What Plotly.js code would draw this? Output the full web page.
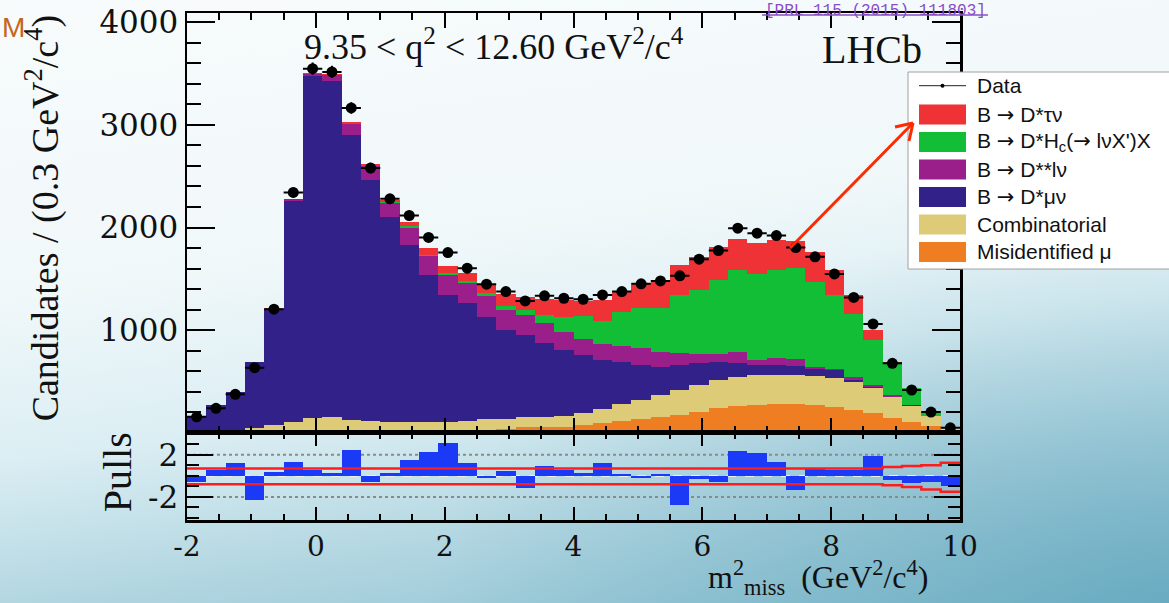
<!DOCTYPE html>
<html>
<head>
<meta charset="utf-8">
<script src="https://cdn.plot.ly/plotly-3.0.1.min.js"></script>
<style>
html,body{margin:0;padding:0;width:1169px;height:603px;overflow:hidden;}
body{background:
  radial-gradient(ellipse at 100% 100%, rgba(80,155,182,0.55) 0%, rgba(80,155,182,0) 45%),
  linear-gradient(172deg,#f7fbfc 0%,#f1f8fa 38%,#dbeef3 60%,#b0d5e0 80%,#88bfcf 100%);}
#chart{width:1169px;height:603px;}
</style>
</head>
<body>
<div id="chart"></div>
<script>
// ---------- data ----------
const binCenters = [-1.85,-1.55,-1.25,-0.95,-0.65,-0.35,-0.05,0.25,0.55,0.85,1.15,1.45,1.75,2.05,2.35,2.65,2.95,3.25,3.55,3.85,4.15,4.45,4.75,5.05,5.35,5.65,5.95,6.25,6.55,6.85,7.15,7.45,7.75,8.05,8.35,8.65,8.95,9.25,9.55,9.85];
const dataCounts = [156,238,375,634,1204,2342,3548,3516,3165,2580,2280,2117,1903,1756,1604,1448,1376,1285,1334,1311,1301,1343,1376,1451,1480,1529,1692,1776,1994,1945,1922,1805,1714,1548,1319,1060,677,417,202,49];
const misidMu      = [0,0,0,0,0,2,3,3,4,4,5,8,10,15,26,30,40,55,59,59,75,91,117,131,156,173,205,238,260,270,280,282,270,248,221,189,140,107,70,25];
const combinatorial= [0,3,10,45,75,105,142,147,120,113,105,99,97,95,86,101,91,101,97,101,114,139,163,189,214,247,265,277,280,290,285,286,280,287,277,244,205,158,90,20];
const dstarMuNu    = [160,265,388,645,1130,2155,3333,3275,2780,2348,1991,1724,1432,1233,1150,1001,871,797,719,647,569,479,413,345,274,240,207,178,140,100,95,86,70,73,16,9,7,3,1,0];
const dstarstarLNu = [0,0,0,2,5,13,20,59,101,130,139,169,185,196,195,202,195,195,190,171,152,159,155,165,146,120,88,77,105,49,66,62,24,14,31,26,13,4,1,0];
const dstarHc      = [0,0,0,0,1,2,2,3,5,7,8,10,11,16,23,32,39,49,83,147,225,222,327,383,430,563,630,720,802,843,859,888,821,721,615,436,312,161,53,10];
const dstarTauNu   = [0,0,0,1,2,3,5,5,15,19,20,39,64,71,75,75,117,123,157,170,153,205,210,245,270,293,320,325,300,302,289,260,301,244,183,98,16,3,1,0];
const pulls        = [-0.6,0.6,1.2,-2.3,0.4,1.3,0.6,0.3,2.5,-0.6,0.3,1.5,2.3,3.1,1.2,-0.2,0.5,-1.2,0.9,0.6,0.3,1.2,0.2,-0.2,0.2,-2.8,-0.3,-0.6,2.4,2.2,1.3,-1.3,0.7,0.6,0.6,1.9,-0.4,-0.7,-0.6,-1.0];
const bandUpper    = [0.7,0.7,0.7,0.7,0.7,0.7,0.7,0.7,0.7,0.7,0.7,0.7,0.7,0.7,0.7,0.7,0.7,0.7,0.7,0.7,0.7,0.7,0.7,0.7,0.7,0.7,0.7,0.7,0.7,0.7,0.7,0.7,0.7,0.7,0.7,0.7,0.85,0.95,1.0,1.25];
const bandLower    = [-0.8,-0.8,-0.8,-0.8,-0.8,-0.8,-0.8,-0.8,-0.8,-0.8,-0.8,-0.8,-0.8,-0.8,-0.8,-0.8,-0.8,-0.8,-0.8,-0.8,-0.8,-0.8,-0.8,-0.8,-0.8,-0.8,-0.8,-0.8,-0.8,-0.8,-0.8,-0.8,-0.8,-0.8,-0.8,-0.8,-0.9,-1.05,-1.3,-1.5];

const xTickVals = [-2,0,2,4,6,8,10];
const xTickText = ['-2','0','2','4','6','8','10'];
const yTickVals = [1000,2000,3000,4000];
const yTickText = ['1000','2000','3000','4000'];
const pullTickVals = [-2,2];
const pullTickText = ['-2','2'];

const ARW = '<span style="font-family:\'DejaVu Sans\'">→</span>';
const componentNames = ['Misidentified μ','Combinatorial','B → D*μν','B → D**lν','B → D*Hc(→ lνX\')X','B → D*τν'];
const legendLabels = ['Data', 'B ' + ARW + ' D*τν', 'B ' + ARW + ' D*H<sub>c</sub>(' + ARW + ' lνX\')X',
  'B ' + ARW + ' D**lν', 'B ' + ARW + ' D*μν', 'Combinatorial', 'Misidentified μ'];

// ---------- styles ----------
const colMisid = '#ef7d22', colComb = '#ddcb78', colMu = '#33218a', colDss = '#9a1f8a', colHc = '#13be37', colTau = '#ee3236';
const components = [misidMu, combinatorial, dstarMuNu, dstarstarLNu, dstarHc, dstarTauNu];
const compColors = [colMisid, colComb, colMu, colDss, colHc, colTau];
const legendColors = [null, colTau, colHc, colDss, colMu, colComb, colMisid];

const W = 1169, H = 603, L = 186.7, R = 960, T = 13, B = 520;
const px = x => (x - L) / (R - L);
const py = y => 1 - (y - T) / (B - T);

const traces = [];
components.forEach((vals, i) => {
  traces.push({type:'bar', x: binCenters, y: vals, width: 0.3, name: componentNames[i],
    marker:{color: compColors[i], line:{width:0}}, xaxis:'x', yaxis:'y', hoverinfo:'skip'});
});
traces.push({type:'scatter', mode:'markers', x: binCenters, y: dataCounts, name:'Data',
  marker:{color:'#000', size:11, symbol:'circle'},
  error_y:{type:'data', array: dataCounts.map(v => Math.sqrt(v)), color:'#000', thickness:2, width:0},
  error_x:{type:'constant', value:0.15, color:'#000', thickness:2, width:0},
  xaxis:'x', yaxis:'y'});
traces.push({type:'bar', x: binCenters, y: pulls, width:0.3, marker:{color:'#1a3af7', line:{width:0}},
  xaxis:'x2', yaxis:'y2', name:'Pulls'});
const bandX = [-2].concat(binCenters, [10]);
traces.push({type:'scatter', mode:'lines', x: bandX, y: [bandUpper[0]].concat(bandUpper, [bandUpper[bandUpper.length-1]]),
  line:{color:'#ff1c1c', width:2.5, shape:'hvh'}, xaxis:'x2', yaxis:'y2'});
traces.push({type:'scatter', mode:'lines', x: bandX, y: [bandLower[0]].concat(bandLower, [bandLower[bandLower.length-1]]),
  line:{color:'#ff1c1c', width:2.5, shape:'hvh'}, xaxis:'x2', yaxis:'y2'});

const tickFont = {family:'DejaVu Serif', size:31, color:'#111'};
const axCommon = {showline:true, linecolor:'#000', linewidth:2.5, ticks:'inside', tickcolor:'#000', tickwidth:2,
  mirror:'ticks', showgrid:false, zeroline:false, fixedrange:true};

const shapes = [];
// pull reference lines
[[2,'#8a8a8a','dot'],[-2,'#8a8a8a','dot'],[0,'#f0f0f0','dash']].forEach(s => {
  shapes.push({type:'line', xref:'x2', yref:'y2', x0:-2, x1:10, y0:s[0], y1:s[0], layer:'below',
    line:{color:s[1], width:2, dash:s[2]}});
});
// legend box
const rowY = [85.7, 114.5, 142, 169.5, 197, 224.5, 252];
shapes.push({type:'rect', xref:'paper', yref:'paper', x0:px(908), x1:px(1190), y0:py(269), y1:py(72),
  fillcolor:'#ffffff', line:{color:'#a0a0a0', width:1}});
legendColors.forEach((c, i) => {
  if (c === null) {
    shapes.push({type:'line', xref:'paper', yref:'paper', x0:px(919), x1:px(966), y0:py(rowY[i]), y1:py(rowY[i]),
      line:{color:'#222', width:1}});
    shapes.push({type:'circle', xref:'paper', yref:'paper', x0:px(940.5), x1:px(944.5), y0:py(rowY[i]+2), y1:py(rowY[i]-2),
      fillcolor:'#000', line:{color:'#000', width:0}});
  } else {
    shapes.push({type:'rect', xref:'paper', yref:'paper', x0:px(919), x1:px(966), y0:py(rowY[i]+10), y1:py(rowY[i]-10),
      fillcolor:c, line:{width:0}});
  }
});
// arrow pointing to the legend (open V head)
const arrowLines = [[790,248,913,123],[913,123,895,127],[913,123,909,141]];
arrowLines.forEach(a => {
  shapes.push({type:'line', xref:'paper', yref:'paper', x0:px(a[0]), y0:py(a[1]), x1:px(a[2]), y1:py(a[3]),
    line:{color:'#ff2a00', width:3}});
});
// link underline (top of slide)
shapes.push({type:'line', xref:'paper', yref:'paper', x0:px(762), x1:px(988), y0:py(15), y1:py(15),
  line:{color:'#8a4cc8', width:1.5}});

const annotations = [];
legendLabels.forEach((t, i) => {
  annotations.push({xref:'paper', yref:'paper', x:px(975), y:py(rowY[i]), xanchor:'left', yanchor:'middle',
    text:t, showarrow:false, font:{family:'Liberation Sans', size:21, color:'#111'}});
});
annotations.push({xref:'paper', yref:'paper', x:px(494), y:py(45), xanchor:'center', yanchor:'middle',
  text:'9.35 &lt; q<sup>2</sup> &lt; 12.60 GeV<sup>2</sup>/c<sup>4</sup>', showarrow:false,
  font:{family:'Liberation Serif', size:36, color:'#111'}});
annotations.push({xref:'paper', yref:'paper', x:px(872), y:py(49), xanchor:'center', yanchor:'middle',
  text:'LHCb', showarrow:false, font:{family:'Liberation Serif', size:40, color:'#111'}});
annotations.push({xref:'paper', yref:'paper', x:px(42), y:py(218), xanchor:'center', yanchor:'middle', textangle:-90,
  text:'Candidates / (0.3 GeV<sup>2</sup>/c<sup>4</sup>)', showarrow:false,
  font:{family:'Liberation Serif', size:38, color:'#111'}});
annotations.push({xref:'paper', yref:'paper', x:px(117), y:py(472), xanchor:'center', yanchor:'middle', textangle:-90,
  text:'Pulls', showarrow:false, font:{family:'Liberation Serif', size:40, color:'#111'}});
annotations.push({xref:'paper', yref:'paper', x:px(818), y:py(602), xanchor:'center', yanchor:'bottom',
  text:'m<sup>2</sup><sub>miss</sub>  (GeV<sup>2</sup>/c<sup>4</sup>)', showarrow:false,
  font:{family:'Liberation Serif', size:32, color:'#111'}});
// slide fragments
annotations.push({xref:'paper', yref:'paper', x:px(0), y:py(27), xanchor:'left', yanchor:'middle',
  text:'M', showarrow:false, font:{family:'Liberation Sans', size:28, color:'#c4661c'}});
annotations.push({xref:'paper', yref:'paper', x:px(875), y:py(0), xanchor:'center', yanchor:'top',
  text:'[PRL 115 (2015) 111803]', showarrow:false, font:{family:'Liberation Mono', size:16, color:'#8a4cc8'}});

const layout = {
  width:W, height:H,
  margin:{l:L, r:W-R, t:T, b:H-B, pad:0},
  paper_bgcolor:'rgba(0,0,0,0)', plot_bgcolor:'rgba(0,0,0,0)',
  barmode:'stack', bargap:0, showlegend:false,
  font:{family:'DejaVu Serif', color:'#111'},
  xaxis:Object.assign({}, axCommon, {domain:[0,1], anchor:'y', range:[-2,10], showticklabels:false,
    tickmode:'array', tickvals:xTickVals, ticklen:15,
    minor:{ticks:'inside', tickmode:'linear', tick0:0, dtick:0.5, ticklen:7, tickwidth:2, tickcolor:'#000'}}),
  yaxis:Object.assign({}, axCommon, {domain:[0.172,1], anchor:'x', range:[0,4090],
    tickmode:'array', tickvals:yTickVals, ticktext:yTickText, ticklen:28, tickfont:tickFont,
    minor:{ticks:'inside', tickmode:'linear', tick0:0, dtick:200, ticklen:14, tickwidth:2, tickcolor:'#000'}}),
  xaxis2:Object.assign({}, axCommon, {domain:[0,1], anchor:'y2', range:[-2,10],
    tickmode:'array', tickvals:xTickVals, ticktext:xTickText, ticklen:13, tickfont:Object.assign({}, tickFont, {size:28}),
    ticklabelstandoff:0,
    minor:{ticks:'inside', tickmode:'linear', tick0:0, dtick:0.5, ticklen:6, tickwidth:2, tickcolor:'#000'}}),
  yaxis2:Object.assign({}, axCommon, {domain:[0,0.172], anchor:'x2', range:[-4.2,4.1],
    tickmode:'array', tickvals:pullTickVals, ticktext:pullTickText, ticklen:26, tickfont:tickFont,
    minor:{ticks:'inside', tickmode:'linear', tick0:0, dtick:1, ticklen:12, tickwidth:2, tickcolor:'#000'}}),
  shapes:shapes,
  annotations:annotations
};

Plotly.newPlot('chart', traces, layout, {staticPlot:true, displayModeBar:false});
</script>
</body>
</html>
